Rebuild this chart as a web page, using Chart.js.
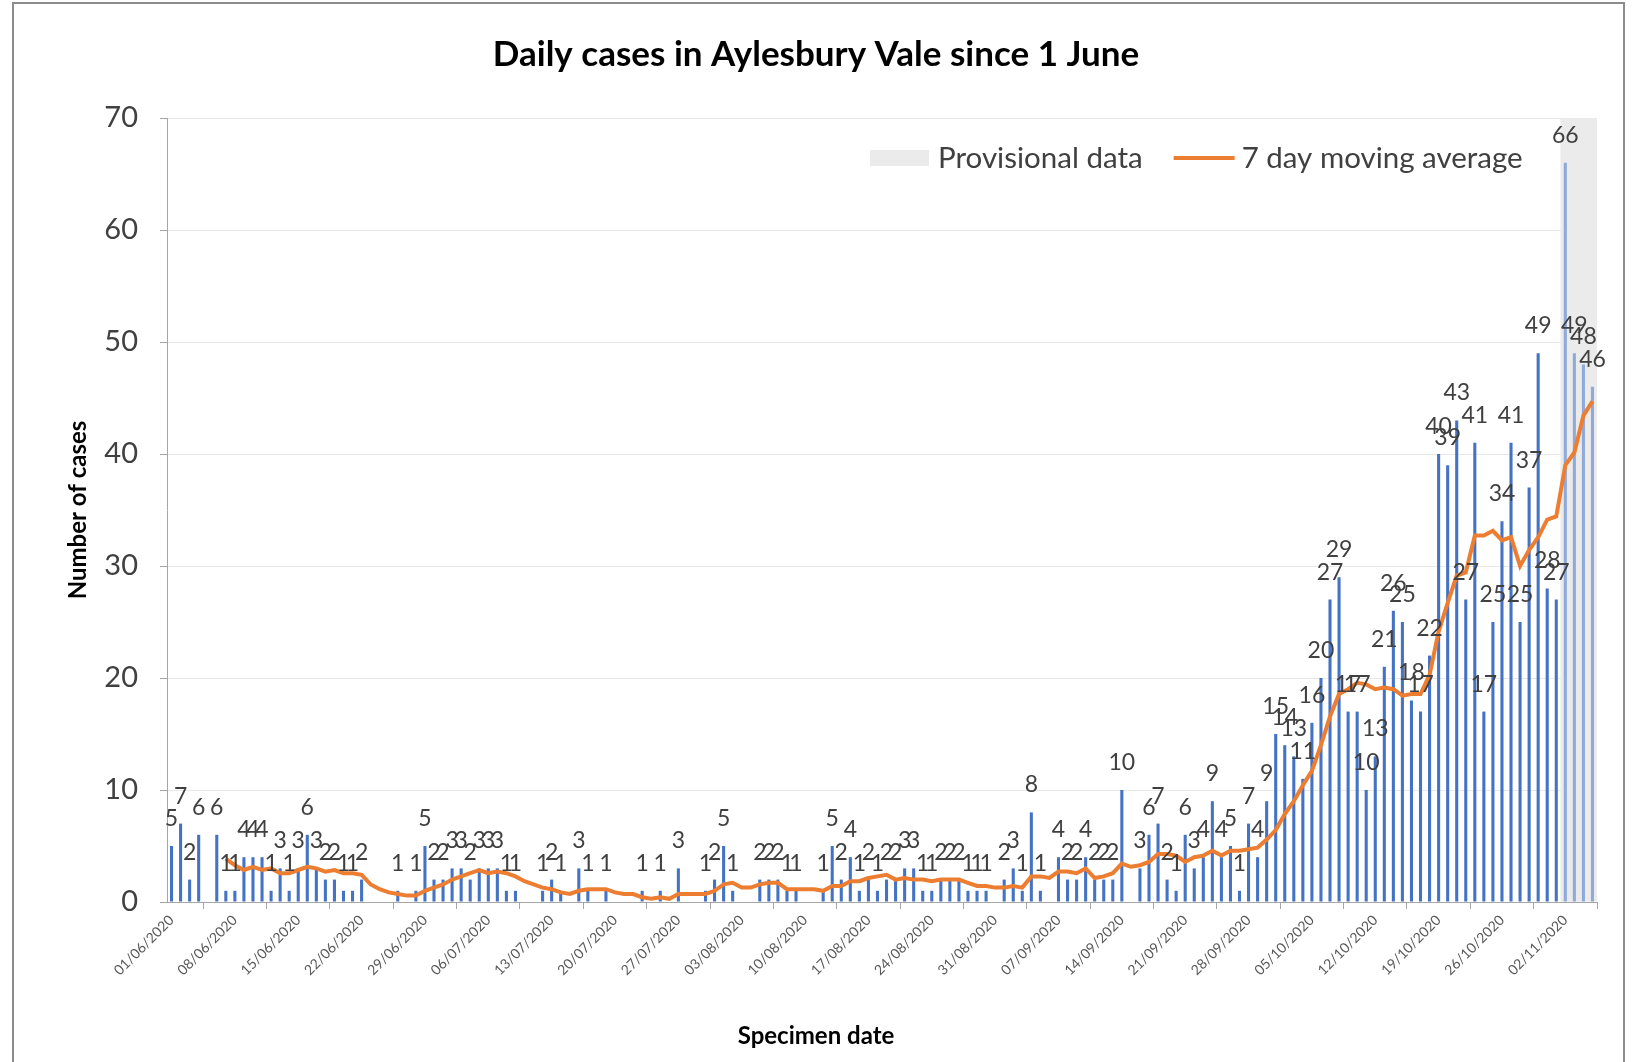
<!DOCTYPE html>
<html>
<head>
<meta charset="utf-8">
<title>Daily cases in Aylesbury Vale since 1 June</title>
<script src="https://cdn.jsdelivr.net/npm/chart.js"></script>
<style>
  html, body { margin: 0; padding: 0; background: #fff; overflow: hidden; }
  #wrap { position: relative; width: 1632px; height: 1062px; }
  #frame { position: absolute; left: 12px; top: 2px; width: 1609px; height: 1100px; border: 2px solid #8c8c8c; pointer-events: none; }
</style>
</head>
<body>
<div id="wrap">
  <canvas id="cases-chart" width="1632" height="1062"></canvas>
  <div id="frame"></div>
</div>
<script>
const chartTitle = 'Daily cases in Aylesbury Vale since 1 June';
const xTitle = 'Specimen date';
const yTitle = 'Number of cases';
const bandLabel = 'Provisional data';
const avgLabel = '7 day moving average';

// Daily cases by specimen date, one array per month
const juneCases = [5, 7, 2, 6, 0, 6, 1, 1, 4, 4, 4, 1, 3, 1, 3, 6, 3, 2, 2, 1, 1, 2, 0, 0, 0, 1, 0, 1, 5, 2];
const julyCases = [2, 3, 3, 2, 3, 3, 3, 1, 1, 0, 0, 1, 2, 1, 0, 3, 1, 0, 1, 0, 0, 0, 1, 0, 1, 0, 3, 0, 0, 1, 2];
const augustCases = [5, 1, 0, 0, 2, 2, 2, 1, 1, 0, 0, 1, 5, 2, 4, 1, 2, 1, 2, 2, 3, 3, 1, 1, 2, 2, 2, 1, 1, 1, 0];
const septemberCases = [2, 3, 1, 8, 1, 0, 4, 2, 2, 4, 2, 2, 2, 10, 0, 3, 6, 7, 2, 1, 6, 3, 4, 9, 4, 5, 1, 7, 4, 9];
const octoberCases = [15, 14, 13, 11, 16, 20, 27, 29, 17, 17, 10, 13, 21, 26, 25, 18, 17, 22, 40, 39, 43, 27, 41, 17, 25, 34, 41, 25, 37, 49, 28];
const novemberCases = [27, 66, 49, 48, 46];

const firstDay = [2020, 5, 1];       // 01/06/2020
const provisionalDays = 4;           // last four days are provisional
const tickEvery = 7;                 // a date label every week
const yMax = 70;
const yStep = 10;

const dailyCases = [].concat(juneCases, julyCases, augustCases, septemberCases, octoberCases, novemberCases);

// Date labels dd/mm/yyyy, one per day
function buildDates(start, count) {
  const out = [];
  const d = new Date(start[0], start[1], start[2]);
  for (let i = 0; i < count; i++) {
    const dd = String(d.getDate()).padStart(2, '0');
    const mm = String(d.getMonth() + 1).padStart(2, '0');
    out.push(`${dd}/${mm}/${d.getFullYear()}`);
    d.setDate(d.getDate() + 1);
  }
  return out;
}

// Trailing 7 day mean of the daily values
function movingAverage(values, span) {
  return values.map((v, i) => {
    if (i < span - 1) return null;
    let sum = 0;
    for (let j = i - span + 1; j <= i; j++) sum += values[j];
    return sum / span;
  });
}

const dates = buildDates(firstDay, dailyCases.length);
const firstProvisional = dailyCases.length - provisionalDays;
const averageCases = movingAverage(dailyCases, 7);
const provisionalBand = dates.map((d, i) => i >= firstProvisional ? yMax : null);

const BAR_BLUE = '#4472C4';
const BAR_PALE = '#8eaadb';
const ORANGE = '#ED7D31';
const BAND_GREY = '#ebebeb';
const FONT = 'Lato';

// Value labels above each bar
const valueLabels = {
  id: 'valueLabels',
  afterDatasetsDraw(chart) {
    const meta = chart.getDatasetMeta(1);
    const ctx = chart.ctx;
    ctx.save();
    ctx.font = `23px ${FONT}`;
    ctx.fillStyle = '#404040';
    ctx.textAlign = 'center';
    ctx.textBaseline = 'alphabetic';
    meta.data.forEach((bar, i) => {
      const v = dailyCases[i];
      if (!v) return;
      ctx.fillText(String(v), bar.x, bar.y - 20);
    });
    ctx.restore();
  }
};

// Legend inside the plot + x axis title centred on the whole chart
const insideLegend = {
  id: 'insideLegend',
  afterDraw(chart) {
    const ctx = chart.ctx;
    const y = 158;
    let x = 870;
    ctx.save();
    ctx.font = `29.5px ${FONT}`;
    ctx.textBaseline = 'middle';
    ctx.textAlign = 'left';

    ctx.fillStyle = BAND_GREY;
    ctx.fillRect(x, y - 8, 59, 16);
    x += 68;
    ctx.fillStyle = '#404040';
    ctx.fillText(bandLabel, x, y);
    x += ctx.measureText(bandLabel).width + 31;

    ctx.strokeStyle = ORANGE;
    ctx.lineWidth = 4;
    ctx.beginPath();
    ctx.moveTo(x, y);
    ctx.lineTo(x + 61, y);
    ctx.stroke();
    x += 68;
    ctx.fillText(avgLabel, x, y);

    ctx.font = `bold 24px ${FONT}`;
    ctx.fillStyle = '#000';
    ctx.textAlign = 'center';
    ctx.fillText(xTitle, chart.width / 2, 1036);
    ctx.restore();
  }
};

const chart = new Chart(document.getElementById('cases-chart'), {
  data: {
    labels: dates,
    datasets: [
      {
        type: 'line',
        label: avgLabel,
        data: averageCases,
        borderColor: ORANGE,
        borderWidth: 4,
        pointRadius: 0,
        tension: 0,
        order: 1
      },
      {
        type: 'bar',
        label: 'Daily cases',
        data: dailyCases,
        backgroundColor: dailyCases.map((v, i) => i >= firstProvisional ? BAR_PALE : BAR_BLUE),
        grouped: false,
        categoryPercentage: 1,
        barPercentage: 0.34,
        order: 2
      },
      {
        type: 'bar',
        label: bandLabel,
        data: provisionalBand,
        backgroundColor: BAND_GREY,
        grouped: false,
        categoryPercentage: 1,
        barPercentage: 1,
        order: 3
      }
    ]
  },
  options: {
    responsive: false,
    animation: false,
    devicePixelRatio: 1,
    layout: { padding: { top: 10, left: 35, right: 35, bottom: 0 } },
    plugins: {
      legend: { display: false },
      tooltip: { enabled: false },
      title: {
        display: true,
        text: chartTitle,
        color: '#000',
        font: { family: FONT, size: 35, weight: 'bold' },
        padding: { top: 24, bottom: 42 }
      }
    },
    scales: {
      x: {
        type: 'category',
        offset: true,
        grid: { offset: true, drawOnChartArea: false, drawTicks: true, tickLength: 7, tickColor: '#a6a6a6' },
        border: { color: '#a6a6a6', width: 1 },
        ticks: {
          autoSkip: false,
          maxRotation: 45,
          minRotation: 45,
          padding: 3,
          color: '#595959',
          font: { family: FONT, size: 14 },
          callback(value, index) {
            return index % tickEvery === 0 ? this.getLabelForValue(value) : undefined;
          }
        },
        afterFit(scale) { scale.height = 160; }
      },
      y: {
        min: 0,
        max: yMax,
        ticks: { stepSize: yStep, padding: 22, color: '#404040', font: { family: FONT, size: 29 } },
        grid: { color: '#e8e8e8', tickLength: 7, tickColor: '#a6a6a6' },
        border: { color: '#a6a6a6' },
        title: {
          display: true,
          text: yTitle,
          color: '#000',
          font: { family: FONT, size: 24, weight: 'bold' },
          padding: { top: 29, bottom: 0 }
        },
        afterFit(scale) { scale.width = 132; }
      }
    }
  },
  plugins: [valueLabels, insideLegend]
});
</script>
</body>
</html>
